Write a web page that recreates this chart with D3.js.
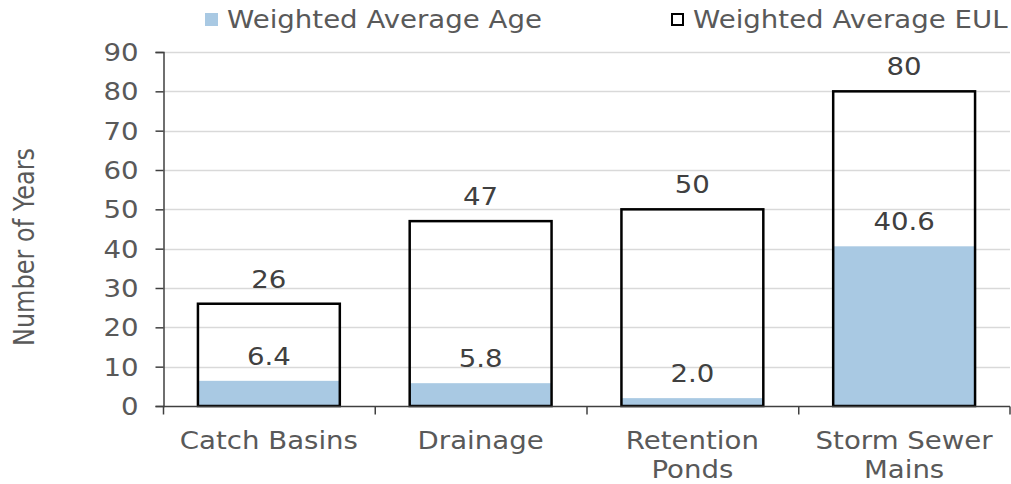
<!DOCTYPE html>
<html>
<head>
<meta charset="utf-8">
<script src="https://cdn.jsdelivr.net/npm/d3@7"></script>
<style>
  html, body { margin: 0; padding: 0; background: #fff; }
  svg { display: block; font-family: "DejaVu Sans", Verdana, sans-serif; }
</style>
</head>
<body>
<svg id="chart" width="1011" height="484"></svg>
<script>
// Stormwater asset categories and their weighted ages / expected useful lives
const categories = [["Catch Basins"], ["Drainage"], ["Retention", "Ponds"], ["Storm Sewer", "Mains"]];
const categoryKeys = ["Catch Basins", "Drainage", "Retention Ponds", "Storm Sewer Mains"];
const ageValues = [6.4, 5.8, 2.0, 40.6];
const eulValues = [26, 47, 50, 80];
const ageLabels = ["6.4", "5.8", "2.0", "40.6"];
const eulLabels = ["26", "47", "50", "80"];
const yTicks = [0, 10, 20, 30, 40, 50, 60, 70, 80, 90];
const seriesNames = ["Weighted Average Age", "Weighted Average EUL"];

const svg = d3.select("#chart");
const margin = { left: 163, right: 1, top: 52, bottom: 78 };
const W = 1011, H = 484;

// Wide-set lettering: glyphs are drawn stretched horizontally
const fontSize = 24;
const stretch = 1.15;
const textColor = "#595959";
const labelColor = "#404040";

const x = d3.scaleBand()
  .domain(categoryKeys)
  .range([margin.left, W - margin.right])
  .paddingInner(0.33)
  .paddingOuter(0.165);

const y = d3.scaleLinear().domain([0, 90]).range([H - margin.bottom, margin.top]);

// Place a stretched text label at (cx, cy)
function wideText(g, cx, cy, str, anchor, color) {
  return g.append("text")
    .attr("transform", `translate(${cx},${cy}) scale(${stretch},1)`)
    .attr("text-anchor", anchor)
    .attr("fill", color)
    .attr("font-size", fontSize)
    .text(str);
}

// Horizontal gridlines
svg.append("g")
  .selectAll("line")
  .data(yTicks.filter(d => d > 0))
  .join("line")
  .attr("x1", margin.left)
  .attr("x2", W - margin.right)
  .attr("y1", d => Math.round(y(d)) + 0.5)
  .attr("y2", d => Math.round(y(d)) + 0.5)
  .attr("stroke", "#d9d9d9")
  .attr("stroke-width", 1.5);

// Y axis
const yAxis = svg.append("g")
  .attr("transform", `translate(${margin.left + 0.5},0)`)
  .call(d3.axisLeft(y).tickValues(yTicks).tickSize(8));
yAxis.select(".domain").attr("stroke", "#404040").attr("stroke-width", 1.5);
yAxis.selectAll(".tick line").attr("stroke", "#404040").attr("stroke-width", 1.5);
yAxis.selectAll(".tick text")
  .attr("x", 0)
  .attr("dy", "0.36em")
  .attr("transform", `translate(-25,0) scale(${stretch},1)`)
  .attr("fill", textColor)
  .attr("font-size", fontSize)
  .attr("font-family", "DejaVu Sans, Verdana, sans-serif");

// Age bars (filled)
svg.append("g")
  .selectAll("rect")
  .data(categoryKeys)
  .join("rect")
  .attr("x", d => x(d))
  .attr("width", x.bandwidth())
  .attr("y", (d, i) => y(ageValues[i]))
  .attr("height", (d, i) => y(0) - y(ageValues[i]))
  .attr("fill", "#a9c9e3");

// EUL bars (outlined)
svg.append("g")
  .selectAll("rect")
  .data(categoryKeys)
  .join("rect")
  .attr("x", d => x(d))
  .attr("width", x.bandwidth())
  .attr("y", (d, i) => y(eulValues[i]))
  .attr("height", (d, i) => y(0) - y(eulValues[i]))
  .attr("fill", "none")
  .attr("stroke", "#000")
  .attr("stroke-width", 2.5);

// X axis with category separators
const xAxisY = Math.round(y(0)) + 0.5;
svg.append("line")
  .attr("x1", margin.left).attr("x2", W - margin.right)
  .attr("y1", xAxisY).attr("y2", xAxisY)
  .attr("stroke", "#404040").attr("stroke-width", 1.5);
const step = x.step();
svg.append("g")
  .selectAll("line")
  .data(d3.range(categoryKeys.length + 1))
  .join("line")
  .attr("x1", i => Math.min(margin.left + i * step, W - 1.5) + 0.5)
  .attr("x2", i => Math.min(margin.left + i * step, W - 1.5) + 0.5)
  .attr("y1", xAxisY)
  .attr("y2", xAxisY + 8)
  .attr("stroke", "#404040").attr("stroke-width", 1.5);

// Category labels
const catG = svg.append("g");
categoryKeys.forEach((d, i) => {
  categories[i].forEach((line, j) => {
    wideText(catG, x(d) + x.bandwidth() / 2, 449 + j * 29, line, "middle", textColor);
  });
});

// Value labels
const valG = svg.append("g");
categoryKeys.forEach((d, i) => {
  const cx = x(d) + x.bandwidth() / 2;
  wideText(valG, cx, y(eulValues[i]) - 16, eulLabels[i], "middle", labelColor);
  wideText(valG, cx, y(ageValues[i]) - 16, ageLabels[i], "middle", labelColor);
});

// Y axis title
svg.append("text")
  .attr("transform", `translate(34,247) scale(${stretch},1) rotate(-90)`)
  .attr("text-anchor", "middle")
  .attr("fill", textColor)
  .attr("font-size", 24)
  .text("Number of Years");

// Legend
const legend = svg.append("g");
legend.append("rect")
  .attr("x", 205).attr("y", 13).attr("width", 13).attr("height", 13)
  .attr("fill", "#a9c9e3");
wideText(legend, 227, 28, seriesNames[0], "start", textColor);
legend.append("rect")
  .attr("x", 672).attr("y", 14).attr("width", 11).attr("height", 11)
  .attr("fill", "none").attr("stroke", "#000").attr("stroke-width", 2);
wideText(legend, 693, 28, seriesNames[1], "start", textColor);
</script>
</body>
</html>
